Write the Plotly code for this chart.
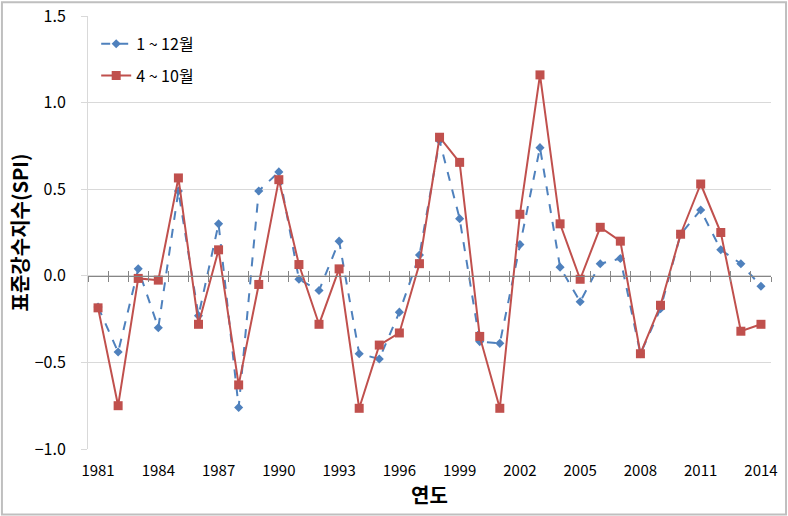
import plotly.graph_objects as go

# SPI values
years = list(range(1981, 2015))
spi_annual = [-0.18, -0.44, 0.04, -0.30, 0.49, -0.23, 0.30, -0.76, 0.49, 0.60,
              -0.02, -0.085, 0.20, -0.45, -0.48, -0.21, 0.12, 0.78, 0.33, -0.38,
              -0.39, 0.18, 0.74, 0.05, -0.15, 0.07, 0.10, -0.45, -0.19, 0.24,
              0.38, 0.15, 0.07, -0.06]
spi_season = [-0.185, -0.75, -0.015, -0.025, 0.565, -0.28, 0.15, -0.63, -0.05, 0.555,
              0.065, -0.28, 0.04, -0.765, -0.40, -0.33, 0.07, 0.80, 0.655, -0.35,
              -0.765, 0.355, 1.16, 0.30, -0.02, 0.28, 0.20, -0.45, -0.17, 0.24,
              0.53, 0.25, -0.32, -0.28]
year_ticks = years[::3]
y_ticks = [-1.0, -0.5, 0.0, 0.5, 1.0, 1.5]

FONT = "Noto Sans CJK KR"
BLUE = "#4F81BD"
RED = "#C0504D"

fig = go.Figure()
fig.add_trace(go.Scatter(
    x=years, y=spi_annual, name="1 ~ 12월", mode="lines+markers",
    line=dict(color=BLUE, width=2, dash="dash"),
    marker=dict(symbol="diamond", size=7, color=BLUE),
    legendgroup="a"))
fig.add_trace(go.Scatter(
    x=years, y=spi_season, name="4 ~ 10월", mode="lines+markers",
    line=dict(color=RED, width=2),
    marker=dict(symbol="square", size=9, color=RED),
    legendgroup="b"))

# zero line with Excel-style crossing tick marks (one axis outside, one inside)
for ax, side in (("x2", "outside"), ("x3", "inside")):
    fig.add_trace(go.Scatter(x=years, y=spi_annual, xaxis=ax, mode="none",
                             showlegend=False, hoverinfo="skip"))
    fig.update_layout(**{
        "xaxis" + ax[1:]: dict(
            overlaying="x", anchor="free", position=0.4, range=[1980.5, 2014.5],
            tick0=1980.5, dtick=1, ticks=side, ticklen=5, tickcolor="#868686",
            showticklabels=False, showgrid=False, zeroline=False, automargin=False,
            showline=True, linecolor="#868686", linewidth=1)})

fig.update_layout(
    width=788, height=516,
    margin=dict(l=88, r=17, t=16, b=67),
    plot_bgcolor="white", paper_bgcolor="white",
    font=dict(family=FONT, color="#000000"),
    xaxis=dict(
        range=[1980.5, 2014.5], tickvals=year_ticks, ticks="",
        showgrid=False, zeroline=False, showline=False, automargin=False,
        tickfont=dict(size=15), ticklabelstandoff=11,
        title=dict(text="<b>연도</b>", font=dict(size=20), standoff=8)),
    yaxis=dict(
        range=[-1.0, 1.5], tickvals=y_ticks, tickformat=".1f",
        showgrid=True, gridcolor="#D9D9D9", gridwidth=1, zeroline=False,
        showline=True, linecolor="#D9D9D9", ticks="outside", ticklen=6,
        tickcolor="#D9D9D9", tickfont=dict(size=16), ticklabelstandoff=12,
        automargin=False,
        title=dict(text="<b>표준강수지수(SPI)</b>", font=dict(size=20), standoff=0)),
    legend=dict(x=0.012, y=0.975, xanchor="left", yanchor="top",
                bgcolor="rgba(0,0,0,0)", font=dict(size=16),
                tracegroupgap=8),
    shapes=[dict(type="rect", xref="paper", yref="paper",
                 x0=-0.126, x1=1.022, y0=-0.151, y1=1.032,
                 line=dict(color="#BFBFBF", width=2), layer="above")],
)

# drop the default 8px page margin so the figure sits at the window origin
fig.write_html("out.html", config={"displayModeBar": False},
               post_script="document.body.style.margin='0';")
